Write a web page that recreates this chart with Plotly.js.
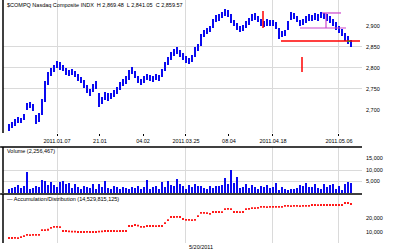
<!DOCTYPE html>
<html>
<head>
<meta charset="utf-8">
<script src="https://cdn.plot.ly/plotly-3.0.1.min.js"></script>
<style>html,body{margin:0;padding:0;background:#fff;}#chart{width:400px;height:250px;}</style>
</head>
<body>
<div id="chart"></div>
<script>
// ---- data ----
const closes = [2657.1,2664.3,2671.4,2676.2,2675.8,2681.0,2709.5,2714.3,2704.8,2673.8,
2685.7,2714.3,2759.5,2783.3,2792.9,2800.0,2809.5,2807.1,2800.0,2790.5,
2788.1,2790.5,2785.7,2776.2,2771.4,2761.9,2747.6,2740.5,2754.8,2759.5,
2714.3,2723.8,2735.7,2731.0,2733.3,2740.5,2747.6,2759.5,2766.7,2771.4,
2788.1,2795.2,2783.3,2771.4,2766.7,2773.8,2778.6,2776.2,2773.8,2778.6,
2776.2,2790.5,2807.1,2819.0,2831.0,2838.1,2842.9,2833.3,2828.6,2819.0,
2816.7,2823.8,2842.9,2850.0,2873.8,2883.3,2888.1,2892.9,2909.5,2919.0,
2921.4,2926.2,2933.3,2931.0,2914.3,2907.1,2897.6,2892.9,2895.2,2904.8,
2911.9,2921.4,2923.8,2916.7,2907.1,2904.8,2909.5,2908.8,2907.1,2900.0,
2876.2,2881.0,2883.3,2907.1,2926.2,2923.8,2916.7,2907.1,2909.5,2916.7,
2921.4,2919.0,2923.8,2921.4,2926.2,2923.8,2921.4,2914.3,2907.1,2900.0,
2892.9,2883.3,2873.8,2866.7,2859.5];
const highs = [2666,2671,2678,2683,2682,2690,2716,2720,2714,2688,
2694,2725,2768,2790,2800,2808,2817,2814,2808,2800,
2796,2797,2793,2786,2779,2772,2760,2750,2762,2768,
2740,2732,2744,2740,2741,2748,2755,2767,2774,2780,
2795,2802,2793,2782,2774,2780,2786,2784,2781,2785,
2783,2798,2814,2826,2838,2845,2850,2842,2836,2828,
2824,2831,2850,2858,2880,2890,2895,2900,2916,2926,
2928,2933,2940,2938,2928,2915,2906,2900,2902,2911,
2918,2928,2930,2925,2916,2912,2916,2915,2914,2909,
2895,2888,2890,2912,2933,2930,2924,2915,2916,2923,
2928,2926,2930,2928,2933,2931,2928,2923,2916,2909,
2901,2893,2883,2875,2866];
const lows = [2650,2656,2663,2670,2668,2676,2700,2705,2697,2666,
2672,2688,2720,2760,2782,2790,2800,2796,2792,2784,
2782,2783,2778,2770,2764,2752,2740,2734,2742,2750,
2708,2714,2724,2722,2725,2731,2738,2748,2758,2763,
2772,2785,2776,2765,2760,2765,2771,2769,2767,2771,
2769,2778,2792,2806,2818,2829,2834,2826,2820,2812,
2809,2815,2826,2841,2852,2874,2880,2885,2895,2910,
2913,2918,2924,2922,2907,2899,2890,2886,2887,2896,
2903,2912,2915,2909,2900,2897,2901,2901,2899,2892,
2868,2873,2875,2890,2915,2916,2909,2900,2902,2908,
2913,2911,2915,2913,2918,2916,2912,2906,2899,2891,
2884,2875,2865,2858,2850];
const volumes = [1800,2000,2500,3500,2000,3200,9000,1800,2200,3000,
2500,5800,5400,3400,4800,3600,2700,4600,5400,3800,
4200,2200,4000,2500,1800,3200,2500,2200,3700,1700,
4100,2600,5300,2300,1800,3100,2400,1800,2500,2000,
1600,2600,2300,3100,1800,2700,5800,1900,2500,3000,
1800,4700,2500,5400,3500,3000,6200,4000,3200,1800,
3400,2600,4000,3100,3000,2200,1800,2900,2000,2900,
3200,3500,6400,4000,9800,4200,6900,2000,2500,3800,
2000,3300,2500,1800,2900,2600,3300,2000,2800,4500,
1500,2600,1700,1500,1600,1900,2300,3600,3200,4500,
2500,2800,3900,2300,1800,3700,2800,3300,4000,1700,
2900,1500,3800,4800,4300];
const accDist = [5700,5700,5800,5600,6400,7100,7900,7800,7900,7900,
8000,11400,11400,11600,12900,13600,13600,13500,10700,10700,
10400,10300,10300,10000,10000,10000,10100,10000,10000,10000,
10200,10400,10700,10700,10700,10700,10600,10700,10700,10700,
14300,14300,15000,14600,13600,13600,14300,14300,14300,14200,
14300,14300,16400,18500,20700,20700,20800,20700,19300,18600,
18600,18500,18600,21400,23600,23600,23500,22900,24300,24300,
24300,24200,26400,26500,26400,24300,24300,24200,24300,26400,
26500,27100,27100,27200,27900,27900,27800,27900,27900,27900,
28000,27900,28600,28600,28500,28600,28600,28500,28600,28600,
28600,29300,29300,29200,29300,29300,29300,29300,29300,29300,
29300,29300,30700,30700,30000];
const dayIndex = closes.map((_, i) => i);

// x-axis ticks
const gridDays = [16, 59, 88, 110];
const labelDays = [16, 30.33, 44.67, 59, 73.33, 88, 110];
const labelTexts = ['2011.01.07','21.01','04.02','2011.03.25','08.04','2011.04.18','2011.05.06'];
// price axis
const priceGrid = [2750, 2800, 2850];
const priceTicks = [2700, 2750, 2800, 2850, 2900];
const priceTickText = ['2,700','2,750','2,800','2,850','2,900'];
// volume axis
const volGrid = [5000, 10000];
const volTicks = [5000, 10000, 15000];
const volTickText = ['5,000','10,000','15,000'];
// acc/dist axis
const adTicks = [10000, 20000];
const adTickText = ['10,000','20,000'];

// annotation lines drawn on the price panel: [x0, y0, x1, y1, colour]
const drawnLines = [
  [90.67, 2864.3, 117, 2864.3, '#ff0000'],
  [84.67, 2935.7, 84.67, 2895.2, '#ff0000'],
  [97.67, 2826.2, 97.67, 2790.5, '#ff0000'],
  [104.33, 2931.0, 110.67, 2931.0, '#cc44cc'],
  [105.67, 2931.0, 105.67, 2895.2, '#cc44cc'],
  [97, 2895.2, 112.33, 2895.2, '#cc44cc'],
  [112.8, 2863.5, 113.8, 2863.5, '#22aa22']
];

const titleMain = '$COMPQ Nasdaq Composite INDX  H 2,869.48  L 2,841.05  C 2,859.57';
const titleVol = 'Volume (2,256,467)';
const titleAD = '— Accumulation/Distribution (14,529,815,125)';
const footer = '5/20/2011';

// ---- drawing ----
const blue = '#0a0af0';
const gridC = '#dadada';
const tf = {family: 'Liberation Sans, Arial, sans-serif', size: 5.5, color: '#000'};

const traces = [
  {type: 'bar', x: dayIndex, base: lows, y: highs.map((h, i) => h - lows[i]),
   width: 0.85, marker: {color: blue, line: {width: 0}}, xaxis: 'x', yaxis: 'y', hoverinfo: 'skip'},
  {type: 'scatter', mode: 'markers', x: dayIndex, y: closes, opacity: 0,
   xaxis: 'x2', yaxis: 'y4', hoverinfo: 'skip'},
  {type: 'bar', x: dayIndex, y: volumes, width: 0.65,
   marker: {color: blue, line: {width: 0}}, xaxis: 'x', yaxis: 'y2', hoverinfo: 'skip'},
  {type: 'scatter', mode: 'markers', x: dayIndex, y: volumes, opacity: 0,
   xaxis: 'x', yaxis: 'y5', hoverinfo: 'skip'},
  {type: 'scatter', mode: 'markers', x: dayIndex, y: accDist,
   marker: {color: '#ff0000', size: 1.8, symbol: 'square', line: {width: 0}},
   xaxis: 'x', yaxis: 'y3', hoverinfo: 'skip'}
];

const xRange = [-2, 117.67];
const shapes = drawnLines.map(s => ({type: 'line', xref: 'x', yref: 'y',
  x0: s[0], y0: s[1], x1: s[2], y1: s[3], line: {color: s[4], width: s[4] === '#ff0000' ? 1.5 : 1.2}}));
// panel borders
const border = {color: '#000', width: 1.5};
shapes.push(
  {type: 'line', xref: 'paper', yref: 'paper', x0: 0, x1: 0, y0: 0.468, y1: 1, line: border},
  {type: 'line', xref: 'paper', yref: 'paper', x0: -0.008, x1: 1, y0: 0.412, y1: 0.412, line: border},
  {type: 'line', xref: 'paper', yref: 'paper', x0: 0, x1: 0, y0: 0.228, y1: 0.412, line: border},
  {type: 'line', xref: 'paper', yref: 'paper', x0: -0.008, x1: 1, y0: 0.224, y1: 0.224, line: border},
  {type: 'line', xref: 'paper', yref: 'paper', x0: 0, x1: 0, y0: 0.028, y1: 0.224, line: border}
);

const layout = {
  width: 400, height: 250,
  margin: {l: 3, r: 38, t: 0, b: 0, pad: 0},
  paper_bgcolor: '#fff', plot_bgcolor: '#fff',
  showlegend: false, bargap: 0, font: tf,
  xaxis: {domain: [0, 1], range: xRange, anchor: 'y', tickvals: gridDays, showticklabels: false,
          showgrid: true, gridcolor: gridC, gridwidth: 1, zeroline: false, ticks: '', showline: false, fixedrange: true},
  xaxis2: {overlaying: 'x', matches: 'x', range: xRange, anchor: 'y', tickvals: labelDays, ticktext: labelTexts,
           showgrid: false, zeroline: false, ticks: 'outside', ticklen: 2, tickcolor: '#000', tickwidth: 1,
           tickfont: tf, showline: false, side: 'bottom'},
  yaxis: {domain: [0.468, 1], range: [2645.2, 2961.9], side: 'right', tickvals: priceGrid,
          showticklabels: false, showgrid: true, gridcolor: gridC, zeroline: false, ticks: ''},
  yaxis4: {overlaying: 'y', range: [2645.2, 2961.9], side: 'right', anchor: 'x2', tickvals: priceTicks, ticktext: priceTickText,
           showgrid: false, zeroline: false, tickfont: tf, ticks: '', ticklabelstandoff: 3},
  yaxis2: {domain: [0.228, 0.412], range: [0, 20000], side: 'right', tickvals: volGrid,
           showticklabels: false, showgrid: true, gridcolor: gridC, zeroline: false, ticks: ''},
  yaxis5: {overlaying: 'y2', range: [0, 20000], side: 'right', tickvals: volTicks, ticktext: volTickText,
           showgrid: false, zeroline: false, tickfont: tf, ticks: '', ticklabelstandoff: 3},
  yaxis3: {domain: [0.028, 0.22], range: [2143, 36429], side: 'right', tickvals: adTicks, ticktext: adTickText,
           showgrid: false, zeroline: false, tickfont: tf, ticks: '', ticklabelstandoff: 3},
  shapes: shapes,
  annotations: [
    {text: titleMain, xref: 'paper', yref: 'paper', x: 0.006, y: 0.98, xanchor: 'left', yanchor: 'middle', showarrow: false, font: tf},
    {text: titleVol, xref: 'paper', yref: 'paper', x: 0.006, y: 0.396, xanchor: 'left', yanchor: 'middle', showarrow: false, font: tf},
    {text: titleAD, xref: 'paper', yref: 'paper', x: 0.006, y: 0.206, xanchor: 'left', yanchor: 'middle', showarrow: false, font: tf},
    {text: footer, xref: 'paper', yref: 'paper', x: 0.552, y: 0.012, xanchor: 'center', yanchor: 'middle', showarrow: false, font: tf}
  ]
};

Plotly.newPlot('chart', traces, layout, {staticPlot: true, displayModeBar: false});
</script>
</body>
</html>
